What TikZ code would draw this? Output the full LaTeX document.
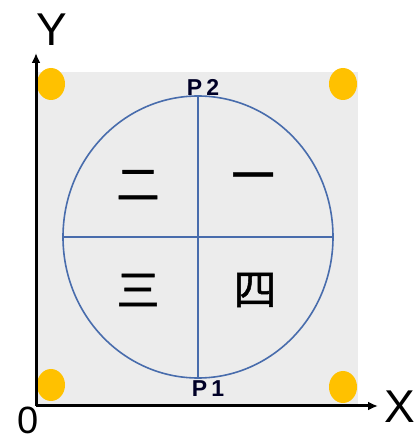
\documentclass[tikz,border=0pt]{standalone}
\usepackage{fontspec}
\setmainfont{Liberation Sans}
\newfontfamily\cjk[FakeBold=1.2]{Noto Sans CJK SC}
\usetikzlibrary{arrows.meta}
\definecolor{ringblue}{RGB}{72,108,172}
\definecolor{amber}{RGB}{255,193,0}
\definecolor{paper}{RGB}{236,236,236}

\begin{document}
\begin{tikzpicture}[x=1pt, y=1pt, axis/.style={line width=3pt,-{Latex[length=10pt,width=9pt]}}, ring/.style={draw=ringblue, line width=1.6pt}, dot/.style={fill=amber}, quad/.style={font=\cjk\fontsize{43}{43}\selectfont}, pt/.style={font=\bfseries\fontsize{23}{23}\selectfont, text=black!85!blue, inner sep=0pt}, axlabel/.style={font=\fontsize{46}{46}\selectfont, inner sep=0pt}]
\useasboundingbox (-36,-36) rectangle (378,406);
\fill[paper] (0,0) rectangle (322,334);
% corner dots
\fill[dot] (15,322) ellipse [x radius=14, y radius=16];
\fill[dot] (307,322) ellipse [x radius=14, y radius=16];
\fill[dot] (15,21) ellipse [x radius=14, y radius=16];
\fill[dot] (307,19) ellipse [x radius=14, y radius=16];
% circle and its diameters
\coordinate (c) at (162,169);
\coordinate (top) at (162,310);
\coordinate (bot) at (162,28);
\coordinate (lft) at (27,169);
\coordinate (rgt) at (297,169);
\draw[ring] (c) ellipse [x radius=135, y radius=141];
\draw[ring] (top) -- (bot);
\draw[ring] (lft) -- (rgt);
\node[pt] (p2) at (167,319) {P\kern4pt2};
\node[pt] (p1) at (172,17) {P\kern4pt1};
\node[quad] (q1) at (217,224) {一};
\node[quad] (q2) at (102,221) {二};
\node[quad] (q3) at (102,116) {三};
\node[quad] (q4) at (219,116) {四};
% axes
\coordinate (O) at (0,0);
\coordinate (ytip) at (0,353);
\coordinate (xtip) at (342,0);
\draw[axis] (O) -- (ytip);
\draw[axis] (O) -- (xtip);
\node[axlabel] (ylab) at (16,376) {Y};
\node[axlabel] (xlab) at (364,-1) {X};
\node[font=\fontsize{38}{38}\selectfont, inner sep=0pt] (zero) at (-8,-14) {0};
\end{tikzpicture}
\end{document}
